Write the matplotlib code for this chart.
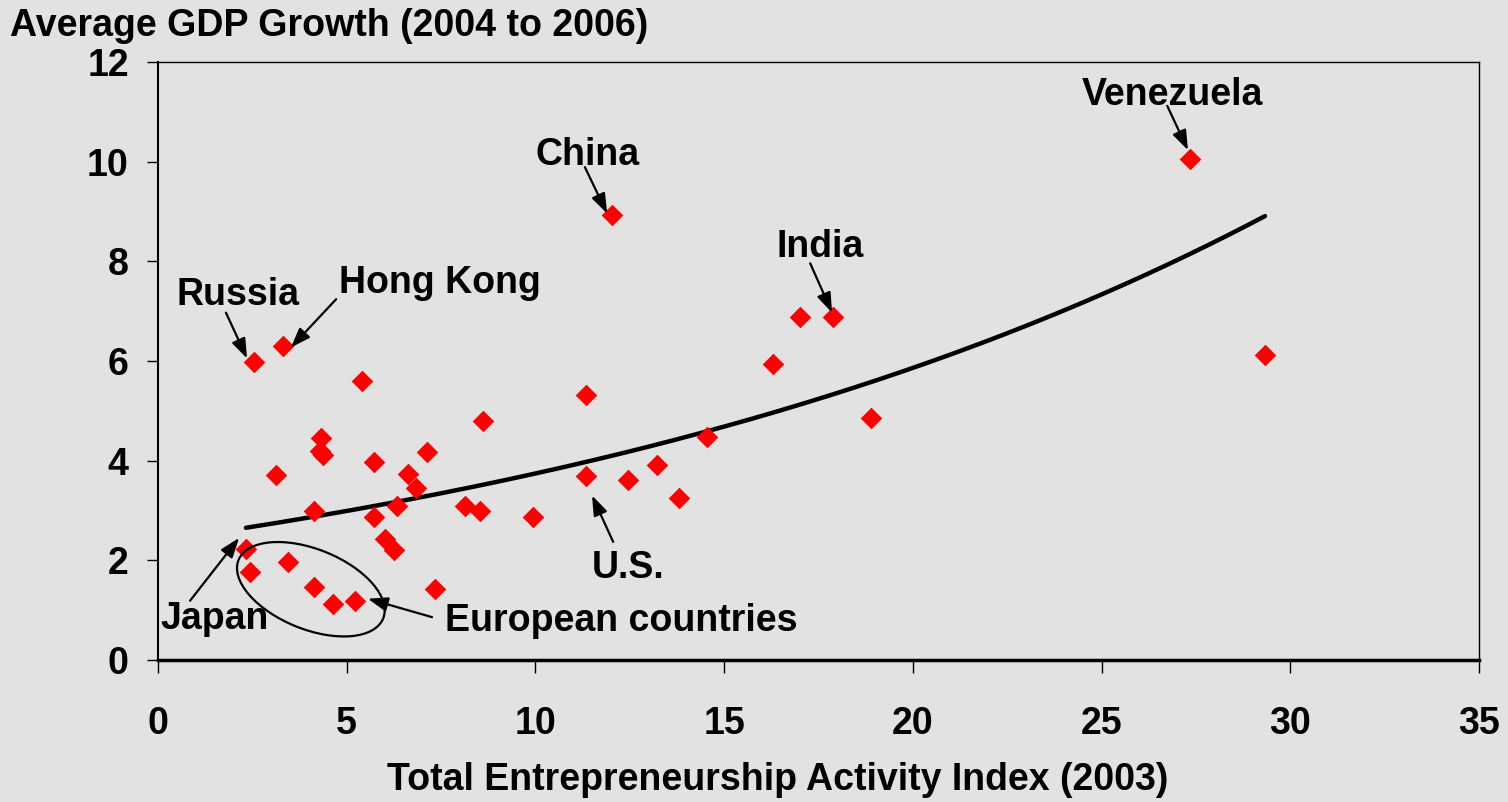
import numpy as np
import matplotlib
matplotlib.use("Agg")
import matplotlib.pyplot as plt
from matplotlib.patches import Ellipse
from matplotlib.transforms import ScaledTranslation

plt.rcParams['font.family'] = ['Liberation Sans', 'DejaVu Sans']
plt.rcParams['font.weight'] = 'bold'

# ---- data ----
tea_index = [2.54, 3.30, 5.41, 8.60, 4.31, 4.28, 4.38, 5.72, 7.14, 3.13,
             6.63, 6.83, 4.12, 6.32, 5.72, 8.13, 8.53, 6.01, 6.24, 2.33,
             2.44, 3.44, 4.13, 4.63, 5.22, 7.34, 11.34, 14.54, 13.21, 11.34,
             12.45, 13.81, 9.93, 12.03, 17.01, 17.89, 16.30, 18.89, 27.33, 29.33]
gdp_growth = [5.98, 6.31, 5.59, 4.80, 4.46, 4.20, 4.12, 3.98, 4.18, 3.72,
              3.73, 3.46, 3.00, 3.10, 2.86, 3.10, 3.00, 2.43, 2.21, 2.23,
              1.77, 1.97, 1.47, 1.12, 1.19, 1.42, 5.31, 4.47, 3.91, 3.69,
              3.62, 3.26, 2.86, 8.92, 6.89, 6.89, 5.93, 4.86, 10.06, 6.12]

x_ticks = [0, 5, 10, 15, 20, 25, 30, 35]
y_ticks = [0, 2, 4, 6, 8, 10, 12]

# labels: (text, text x, text baseline y, arrow start, arrow tip)
labels = [
    ("Venezuela", 26.87, 11.14, (26.74, 11.12), (27.29, 10.23)),
    ("China", 11.39, 9.93, (11.31, 9.89), (11.90, 8.96)),
    ("India", 17.54, 8.08, (17.28, 7.96), (17.86, 6.97)),
    ("Russia", 2.11, 7.12, (1.80, 6.97), (2.36, 6.05)),
    ("Hong Kong", 7.47, 7.36, (4.72, 7.24), (3.52, 6.27)),
    ("Japan", 1.51, 0.62, (0.85, 1.19), (2.15, 2.45)),
    ("European countries", 12.27, 0.58, (7.26, 0.86), (5.56, 1.23)),
    ("U.S.", 12.45, 1.65, (12.06, 2.37), (11.50, 3.30)),
]

bg = '#e2e2e2'
fs = 27

fig = plt.figure(figsize=(15.08, 8.02), dpi=100, facecolor=bg)
ax = fig.add_axes([158/1508, 1-660/802, (1479-158)/1508, (660-62)/802])
ax.set_facecolor(bg)

x = np.array(tea_index)
y = np.array(gdp_growth)
ax.scatter(x, y, marker='D', s=11**2, color='#ff0000', linewidths=0, zorder=3)

# exponential trendline (least squares on log y, as a spreadsheet does)
b, ln_a = np.polyfit(x, np.log(y), 1)
xt = np.linspace(x.min(), x.max(), 200)
ax.plot(xt, np.exp(ln_a) * np.exp(b * xt), color='black', lw=3.2, zorder=2,
        solid_capstyle='round')

ax.set_xlim(0, 35)
ax.set_ylim(0, 12)
ax.set_xticks(x_ticks)
ax.set_yticks(y_ticks)
ax.tick_params(axis='x', direction='out', length=9, width=1, pad=24,
               labelsize=fs, colors='black')
ax.tick_params(axis='y', direction='out', length=8, width=1, pad=13,
               labelsize=fs, colors='black')
for lab in ax.get_xticklabels() + ax.get_yticklabels():
    lab.set_fontweight('bold')

ax.spines['bottom'].set_linewidth(2.5)
ax.spines['left'].set_linewidth(1.5)
ax.spines['top'].set_linewidth(1)
ax.spines['right'].set_linewidth(1)
for s in ax.spines.values():
    s.set_color('black')

for text, tx, ty, start, tip in labels:
    ax.text(tx, ty, text, ha='center', va='baseline', fontsize=fs,
            fontweight='bold', color='black', zorder=5)
    ax.annotate('', xy=tip, xytext=start,
                arrowprops=dict(arrowstyle='-|>,head_length=0.5,head_width=0.18',
                                color='black', lw=1.6,
                                mutation_scale=24, shrinkA=0, shrinkB=0),
                zorder=4)

ell = Ellipse((0, 0), 1.56, 0.80, angle=-22, fill=False, edgecolor='black',
              lw=1.6, transform=fig.dpi_scale_trans + ScaledTranslation(4.05, 1.42, ax.transData),
              zorder=4)
ax.add_patch(ell)

fig.text(10/1508, 1-36/802, "Average GDP Growth (2004 to 2006)", ha='left',
         va='baseline', fontsize=fs, fontweight='bold')
fig.text(778/1508, 1-790/802, "Total Entrepreneurship Activity Index (2003)",
         ha='center', va='baseline', fontsize=fs, fontweight='bold')

fig.savefig('out.png', dpi=100, facecolor=bg)
